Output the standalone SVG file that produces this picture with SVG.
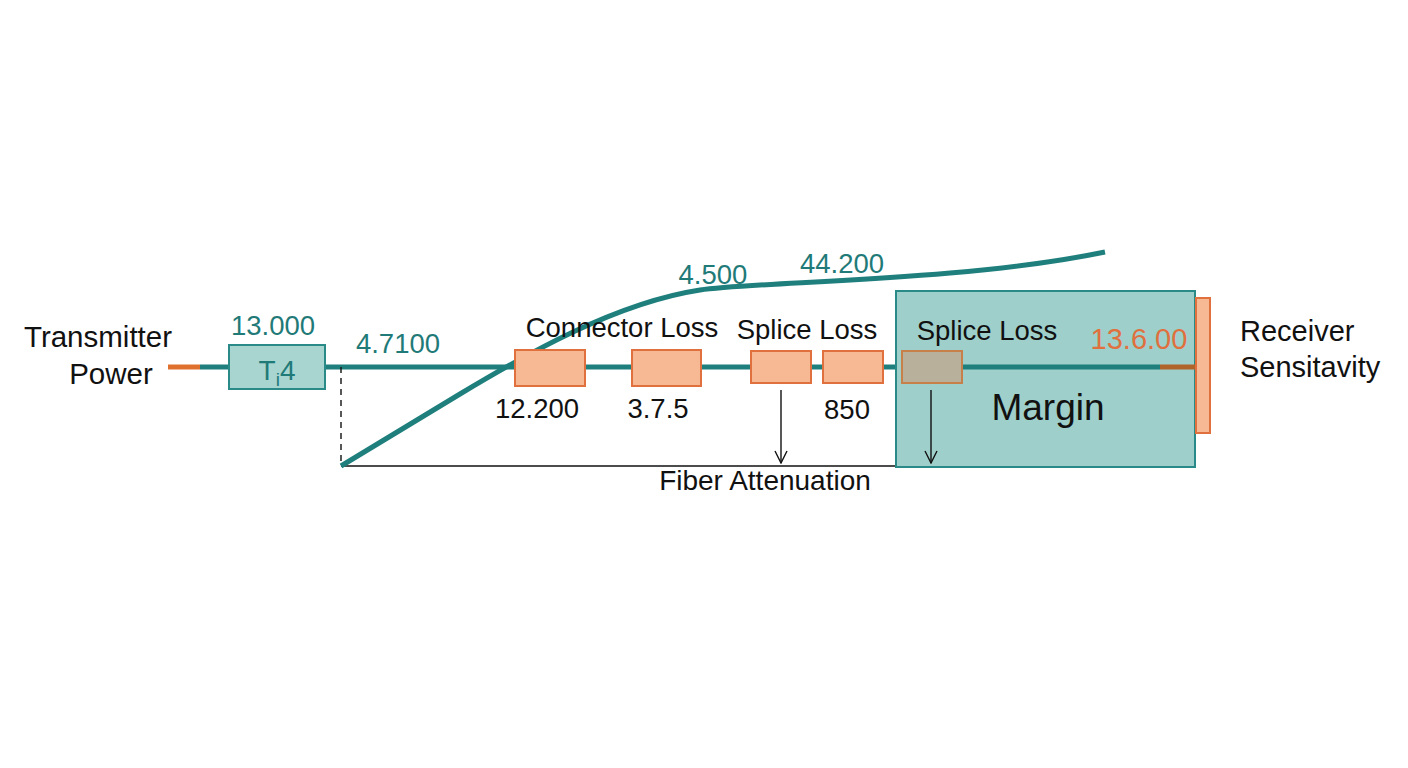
<svg xmlns="http://www.w3.org/2000/svg" width="1408" height="768" viewBox="0 0 1408 768">
<defs>
<style>
text{font-family:"Liberation Sans",Arial,sans-serif}
.lbl{font-size:27.5px;fill:#111}
.tl{font-size:27.5px;fill:#1f7a78}
.ob{fill:#f7b894;stroke:#e0703e;stroke-width:2}
.fib{stroke:#1f7f7d;stroke-width:5;fill:none}
.thin{stroke:#111;stroke-width:1.4;fill:none}
</style>
<marker id="arr" viewBox="0 0 14 14" refX="13" refY="7" markerWidth="14" markerHeight="14" markerUnits="userSpaceOnUse" orient="auto">
<path d="M1 1 L13 7 L1 13" fill="none" stroke="#111" stroke-width="1.4"/>
</marker>
</defs>
<rect width="1408" height="768" fill="#fff"/>
<g id="connectors">
<line x1="168" y1="367" x2="200" y2="367" stroke="#e0702e" stroke-width="5"/>
<line x1="200" y1="367" x2="1160" y2="367" class="fib"/>
<line x1="341" y1="367" x2="341" y2="466" stroke="#111" stroke-width="1.4" stroke-dasharray="6,5"/>
<line x1="341" y1="466" x2="896" y2="466" class="thin"/>
</g>
<g id="margin">
<rect x="896" y="291" width="299" height="176" fill="#9ecfca" stroke="#2a8a88" stroke-width="2"/>
<line x1="962" y1="367" x2="1160" y2="367" class="fib"/>
<line x1="1160" y1="367" x2="1196" y2="367" stroke="#b0642a" stroke-width="5"/>
<text x="1048" y="420" text-anchor="middle" font-size="37" fill="#111">Margin</text>
<text x="987" y="340" text-anchor="middle" class="lbl">Splice Loss</text>
<text x="1139" y="349" text-anchor="middle" font-size="29" fill="#e0703e">13.6.00</text>
</g>
<g id="curve">
<path d="M341 466 L460 394 C525 355 615 303 700 290 C760 281 960 282 1105 252" class="fib" stroke-width="4"/>
<text x="713" y="284" text-anchor="middle" class="tl">4.500</text>
<text x="842" y="273" text-anchor="middle" class="tl">44.200</text>
</g>
<g id="transmitter">
<text x="98" y="347" text-anchor="middle" font-size="29.5" fill="#111">Transmitter</text>
<text x="111" y="384" text-anchor="middle" font-size="29.5" fill="#111">Power</text>
</g>
<g id="tbox">
<rect x="229" y="345" width="96" height="44" fill="#a8d5d0" stroke="#2a8a88" stroke-width="2"/>
<text x="277" y="380" text-anchor="middle" font-size="28" fill="#1f7a78">T<tspan font-size="19" dy="6">i</tspan><tspan dy="-6">4</tspan></text>
<text x="273" y="335" text-anchor="middle" class="tl">13.000</text>
<text x="398" y="353" text-anchor="middle" class="tl">4.7100</text>
</g>
<g id="connector1">
<rect x="515" y="350" width="70" height="36" class="ob"/>
<text x="537" y="418" text-anchor="middle" class="lbl">12.200</text>
</g>
<g id="connector2">
<rect x="632" y="350" width="69" height="36" class="ob"/>
<text x="658" y="418" text-anchor="middle" class="lbl">3.7.5</text>
</g>
<text x="622" y="337" text-anchor="middle" class="lbl">Connector Loss</text>
<g id="splice1">
<rect x="751" y="351" width="60" height="32" class="ob"/>
</g>
<g id="splice2">
<rect x="823" y="351" width="60" height="32" class="ob"/>
<text x="847" y="419" text-anchor="middle" class="lbl">850</text>
</g>
<text x="807" y="339" text-anchor="middle" class="lbl">Splice Loss</text>
<g id="splice3">
<rect x="902" y="351" width="60" height="32" fill="#b8b09a" stroke="#c8804a" stroke-width="2"/>
</g>
<g id="arrows">
<line x1="781" y1="390" x2="781" y2="463" class="thin" marker-end="url(#arr)"/>
<line x1="931" y1="390" x2="931" y2="463" class="thin" marker-end="url(#arr)"/>
</g>
<text x="765" y="490" text-anchor="middle" font-size="28" fill="#111">Fiber Attenuation</text>
<g id="receiver">
<rect x="1196" y="298" width="14" height="135" class="ob"/>
<text x="1240" y="341" font-size="29" fill="#111">Receiver</text>
<text x="1240" y="377" font-size="29" fill="#111">Sensitavity</text>
</g>
</svg>
